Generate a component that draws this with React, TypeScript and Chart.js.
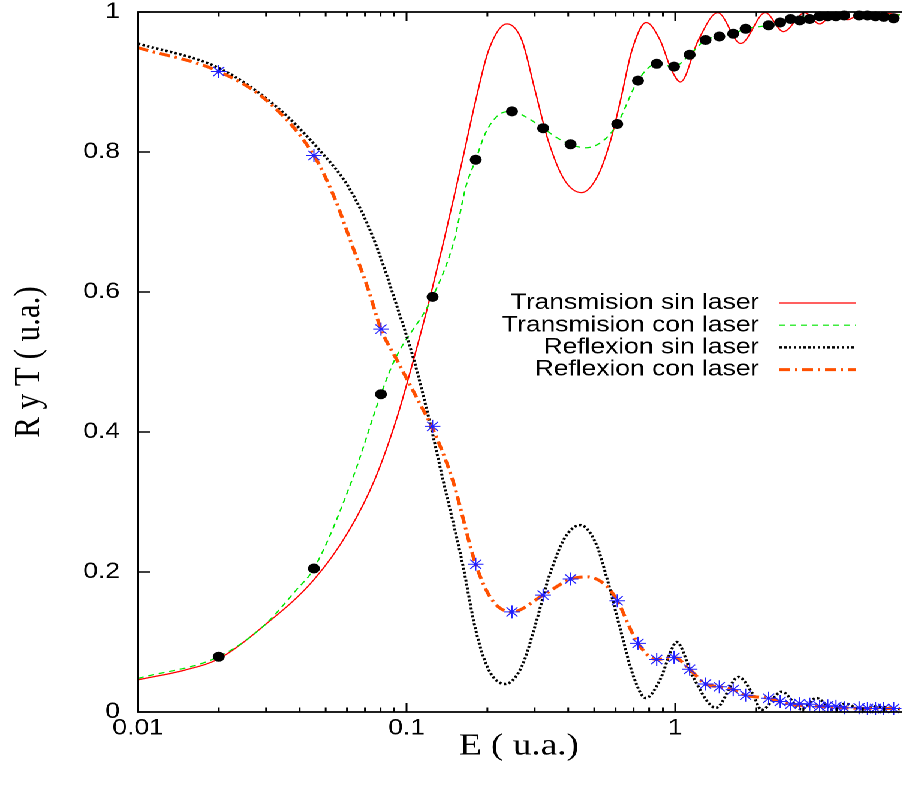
import { useEffect, useRef } from 'react';
import { Chart, registerables } from 'chart.js';

Chart.register(...registerables);

// ---------- data ----------
// shared energies of the "con laser" markers
const markerE = [0.02, 0.0452, 0.0803, 0.125, 0.181, 0.247, 0.3225, 0.408, 0.6085, 0.727, 0.8535, 0.99, 1.132, 1.297, 1.46, 1.644, 1.829, 2.229, 2.46, 2.69, 2.91, 3.17, 3.45, 3.7, 3.97, 4.26, 4.84, 5.2, 5.57, 5.98, 6.51];
const markerT = [0.079, 0.205, 0.454, 0.593, 0.789, 0.858, 0.834, 0.811, 0.84, 0.902, 0.926, 0.922, 0.939, 0.96, 0.965, 0.969, 0.976, 0.981, 0.985, 0.99, 0.988, 0.99, 0.994, 0.994, 0.994, 0.995, 0.995, 0.995, 0.994, 0.993, 0.991];
const markerR = [0.915, 0.795, 0.547, 0.408, 0.211, 0.143, 0.167, 0.19, 0.159, 0.098, 0.075, 0.078, 0.061, 0.04, 0.036, 0.032, 0.024, 0.0196, 0.015, 0.011, 0.012, 0.011, 0.008, 0.009, 0.008, 0.006, 0.006, 0.005, 0.005, 0.005, 0.005];

// Transmision sin laser
const tSinE = [0.01, 0.015, 0.02, 0.0292, 0.0452, 0.0608, 0.0763, 0.092, 0.107, 0.1219, 0.138, 0.1616, 0.181, 0.2025, 0.2365, 0.2686, 0.3006, 0.3365, 0.3874, 0.4487, 0.5136, 0.5754, 0.626, 0.691, 0.78, 0.878, 0.969, 1.046, 1.22, 1.44, 1.753, 2.166, 2.53, 3.04, 3.45, 3.92, 4.39, 4.9, 5.5, 6.1, 6.87];
const tSinV = [0.046, 0.06, 0.076, 0.122, 0.189, 0.258, 0.333, 0.42, 0.508, 0.59, 0.675, 0.789, 0.874, 0.946, 0.983, 0.96, 0.889, 0.817, 0.76, 0.742, 0.765, 0.817, 0.874, 0.946, 0.985, 0.96, 0.917, 0.9, 0.96, 0.999, 0.955, 0.999, 0.972, 0.999, 0.983, 0.998, 0.989, 0.997, 0.993, 0.998, 0.996];

// Transmision con laser
const tConE = [0.01, 0.02, 0.0292, 0.0388, 0.0452, 0.0626, 0.0803, 0.0903, 0.125, 0.1505, 0.1662, 0.181, 0.1968, 0.2203, 0.247, 0.284, 0.3225, 0.3768, 0.4656, 0.5437, 0.6085, 0.727, 0.8535, 0.99, 1.132, 1.297, 1.46, 1.644, 1.829, 2.229, 2.69, 3.45, 4.26, 5.2, 6.87];
const tConV = [0.048, 0.079, 0.122, 0.174, 0.205, 0.331, 0.454, 0.503, 0.593, 0.674, 0.75, 0.789, 0.827, 0.853, 0.858, 0.848, 0.834, 0.817, 0.806, 0.817, 0.84, 0.902, 0.926, 0.922, 0.939, 0.96, 0.965, 0.969, 0.976, 0.981, 0.99, 0.994, 0.995, 0.996, 0.996];

// Reflexion sin laser
const rSinE = [0.01, 0.02, 0.0327, 0.0486, 0.0608, 0.0752, 0.0929, 0.107, 0.1219, 0.1364, 0.1616, 0.181, 0.2025, 0.2332, 0.2686, 0.3006, 0.3365, 0.3874, 0.4437, 0.5067, 0.559, 0.626, 0.7008, 0.777, 0.878, 0.969, 1.011, 1.165, 1.418, 1.72, 1.936, 2.1, 2.495, 2.95, 3.35, 3.9, 4.3, 4.9, 5.5, 6.87];
const rSinV = [0.955, 0.92, 0.865, 0.798, 0.75, 0.677, 0.575, 0.5, 0.415, 0.333, 0.212, 0.117, 0.06, 0.04, 0.065, 0.122, 0.189, 0.248, 0.267, 0.241, 0.189, 0.117, 0.05, 0.02, 0.046, 0.089, 0.1, 0.05, 0.006, 0.05, 0.027, 0.003, 0.029, 0.004, 0.02, 0.003, 0.012, 0.004, 0.008, 0.004];

// Reflexion con laser
const rConE = [0.01, 0.02, 0.0309, 0.0452, 0.0544, 0.0617, 0.0721, 0.0803, 0.0929, 0.1133, 0.124, 0.1485, 0.181, 0.2083, 0.247, 0.3225, 0.41, 0.472, 0.559, 0.6085, 0.727, 0.8535, 0.99, 1.132, 1.297, 1.46, 1.644, 1.829, 2.229, 2.69, 3.45, 4.26, 5.2, 6.87];
const rConV = [0.949, 0.915, 0.87, 0.795, 0.731, 0.674, 0.603, 0.547, 0.5, 0.437, 0.408, 0.331, 0.211, 0.16, 0.143, 0.167, 0.19, 0.193, 0.179, 0.159, 0.098, 0.075, 0.078, 0.061, 0.04, 0.036, 0.032, 0.024, 0.0196, 0.011, 0.008, 0.006, 0.005, 0.005];

const xTicks = [0.01, 0.1, 1];
const yTicks = [0, 0.2, 0.4, 0.6, 0.8, 1];
const xMin = 0.01;
const xMax = 6.87;

const legendOrder = ['Transmision sin laser', 'Transmision con laser', 'Reflexion sin laser', 'Reflexion con laser'];

// ---------- layout / style ----------
const INNER_W = 758;
const INNER_H = 789;
const STRETCH = 909 / INNER_W;
const FONT_SANS = '"Liberation Sans", Arial, Helvetica, sans-serif';
const FONT_SERIF = '"Liberation Serif", "Times New Roman", serif';

const pts = (xs: number[], ys: number[]) => xs.map((x, i) => ({ x, y: ys[i] }));

const zeroPad = (s: any) => {
  s.paddingTop = 0;
  s.paddingBottom = 0;
  s.paddingLeft = 0;
  s.paddingRight = 0;
};

const framePlugin = {
  id: 'gnuFrame',
  afterDatasetsDraw(chart: any) {
    const { ctx, chartArea, scales } = chart;
    const { left, right, top, bottom } = chartArea;
    ctx.save();
    ctx.strokeStyle = '#000';
    ctx.lineWidth = 1.8;
    ctx.beginPath();
    ctx.moveTo(right + 2, top);
    ctx.lineTo(left, top);
    ctx.lineTo(left, bottom);
    ctx.lineTo(right + 2, bottom);
    ctx.stroke();
    ctx.lineWidth = 1.5;
    ctx.beginPath();
    for (const d of xTicks) {
      for (let m = 1; m < 10; m++) {
        const v = d * m;
        if (v < xMin * 0.999 || v > xMax) continue;
        const px = scales.x.getPixelForValue(v);
        const len = m === 1 ? 9 : 4.5;
        ctx.moveTo(px, bottom);
        ctx.lineTo(px, bottom - len);
        ctx.moveTo(px, top);
        ctx.lineTo(px, top + len);
      }
    }
    for (const v of yTicks) {
      const py = scales.y.getPixelForValue(v);
      ctx.moveTo(left, py);
      ctx.lineTo(left + 10, py);
    }
    ctx.stroke();
    ctx.restore();
  },
};

const LEG_TEXT_X = 633;
const LEG_LINE_X0 = 650;
const LEG_LINE_X1 = 714;
const LEG_Y0 = 303;
const LEG_STEP = 22.2;

const legendPlugin = {
  id: 'gnuLegend',
  afterDraw(chart: any) {
    const ctx = chart.ctx;
    ctx.save();
    ctx.font = `22px ${FONT_SANS}`;
    ctx.textAlign = 'right';
    ctx.textBaseline = 'middle';
    ctx.fillStyle = '#000';
    legendOrder.forEach((label, i) => {
      const ds = chart.data.datasets.find((d: any) => d.label === label);
      if (!ds) return;
      const y = LEG_Y0 + i * LEG_STEP;
      ctx.fillText(ds.label, LEG_TEXT_X, y);
      ctx.strokeStyle = ds.borderColor;
      ctx.lineWidth = ds.borderWidth;
      ctx.setLineDash(ds.borderDash || []);
      ctx.beginPath();
      ctx.moveTo(LEG_LINE_X0, y);
      ctx.lineTo(LEG_LINE_X1, y);
      ctx.stroke();
    });
    ctx.restore();
  },
};

const lineBase = {
  pointRadius: 0,
  fill: false,
  cubicInterpolationMode: 'monotone' as const,
  borderCapStyle: 'butt' as const,
};

export default function App() {
  const ref = useRef<HTMLCanvasElement | null>(null);

  useEffect(() => {
    if (!ref.current) return;
    const chart = new Chart(ref.current, {
      type: 'line',
      data: {
        datasets: [
          {
            label: 'T markers',
            data: pts(markerE, markerT),
            showLine: false,
            pointStyle: 'circle',
            pointRadius: 5,
            pointBackgroundColor: '#000',
            pointBorderColor: '#000',
            pointBorderWidth: 0,
            clip: false,
          } as any,
          {
            label: 'R markers',
            data: pts(markerE, markerR),
            showLine: false,
            pointStyle: 'star',
            pointRadius: 6.5,
            pointBorderColor: '#1f1fff',
            pointBorderWidth: 1,
            clip: false,
          } as any,
          {
            ...lineBase,
            label: 'Reflexion con laser',
            data: pts(rConE, rConV),
            borderColor: '#ff5000',
            borderWidth: 3,
            borderDash: [9, 4, 2, 4],
          },
          {
            ...lineBase,
            label: 'Reflexion sin laser',
            data: pts(rSinE, rSinV),
            borderColor: '#000000',
            borderWidth: 2.5,
            borderDash: [2, 2],
          },
          {
            ...lineBase,
            label: 'Transmision con laser',
            data: pts(tConE, tConV),
            borderColor: '#00e600',
            borderWidth: 1.2,
            borderDash: [5, 4],
          },
          {
            ...lineBase,
            label: 'Transmision sin laser',
            data: pts(tSinE, tSinV),
            borderColor: '#ff0000',
            borderWidth: 1.2,
          },
        ],
      },
      options: {
        responsive: true,
        maintainAspectRatio: false,
        animation: false,
        devicePixelRatio: 2,
        events: [],
        layout: { padding: { top: 12, right: 0, bottom: 0, left: 0 } },
        plugins: {
          legend: { display: false },
          tooltip: { enabled: false },
        },
        scales: {
          x: {
            type: 'logarithmic',
            min: xMin,
            max: xMax,
            grid: { display: false, drawTicks: false },
            border: { display: false },
            afterBuildTicks: (s: any) => {
              s.ticks = xTicks.map((v) => ({ value: v }));
            },
            afterFit: (s: any) => {
              s.height = INNER_H - 712;
              zeroPad(s);
            },
            ticks: {
              color: '#000',
              font: { family: FONT_SANS, size: 22 },
              padding: 3,
              maxRotation: 0,
              autoSkip: false,
              callback: (v: any) => String(v),
            },
            title: {
              display: true,
              text: 'E ( u.a.)',
              color: '#000',
              font: { family: FONT_SERIF, size: 31 },
              padding: { top: 0, bottom: 24 },
            },
          },
          y: {
            type: 'linear',
            min: 0,
            max: 1,
            grid: { display: false, drawTicks: false },
            border: { display: false },
            afterBuildTicks: (s: any) => {
              s.ticks = yTicks.map((v) => ({ value: v }));
            },
            afterFit: (s: any) => {
              s.width = 115;
              zeroPad(s);
            },
            ticks: {
              color: '#000',
              font: { family: FONT_SANS, size: 22 },
              padding: 15,
              callback: (v: any) => String(v),
            },
            title: {
              display: true,
              text: 'R y T ( u.a.)',
              color: '#000',
              font: { family: FONT_SERIF, size: 31 },
              padding: { top: 6, bottom: 0 },
            },
          },
        },
      },
      plugins: [framePlugin, legendPlugin],
    });
    return () => chart.destroy();
  }, []);

  return (
    <div
      style={{
        position: 'fixed',
        left: 0,
        top: 0,
        width: INNER_W,
        height: INNER_H,
        transform: `scaleX(${STRETCH})`,
        transformOrigin: '0 0',
        background: '#fff',
      }}
    >
      <canvas ref={ref} />
    </div>
  );
}
